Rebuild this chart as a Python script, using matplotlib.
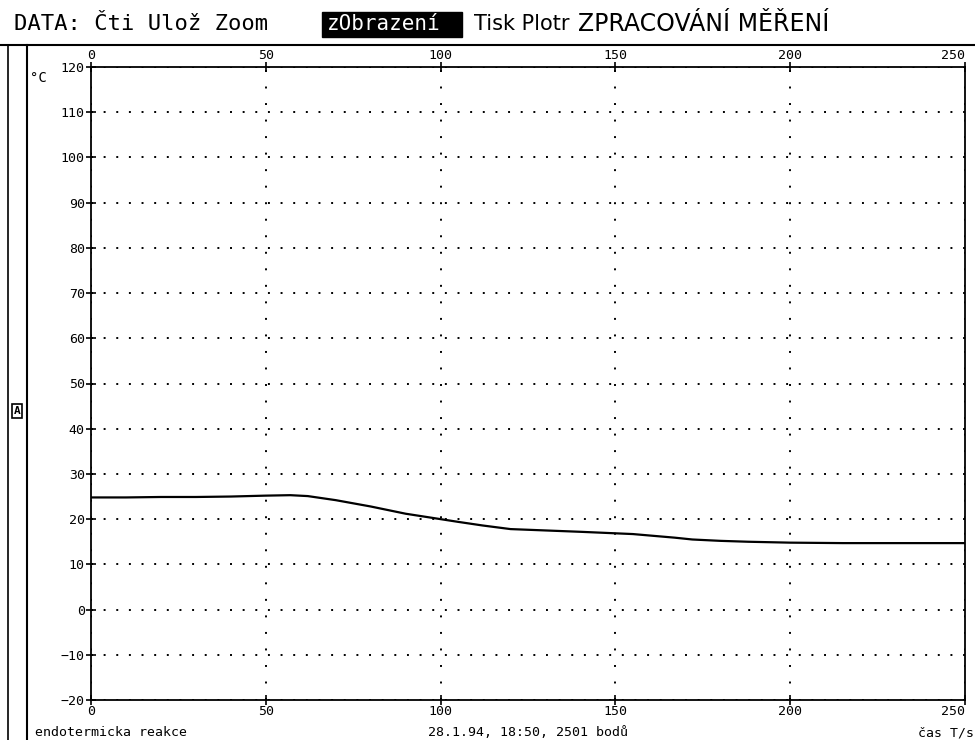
import numpy as np
import matplotlib.pyplot as plt
from matplotlib.lines import Line2D
from matplotlib.patches import Rectangle

# cas [s], teplota [C]
cas = [0, 10, 20, 30, 40, 50, 57, 62, 70, 80, 90, 100, 105, 112, 120, 130,
       140, 146, 155, 161, 167, 172, 180, 188, 200, 215, 230, 241, 250]
teplota = [24.8, 24.8, 24.9, 24.9, 25.0, 25.2, 25.3, 25.1, 24.2, 22.8, 21.2, 20.0,
           19.4, 18.6, 17.8, 17.5, 17.2, 17.0, 16.7, 16.3, 15.9, 15.5, 15.2, 15.0,
           14.8, 14.7, 14.7, 14.7, 14.7]

x_ticks = [0, 50, 100, 150, 200, 250]
y_ticks = [120, 110, 100, 90, 80, 70, 60, 50, 40, 30, 20, 10, 0, -10, -20]

mono = 'DejaVu Sans Mono'

fig = plt.figure(figsize=(9.75, 7.4), dpi=100)
ax = fig.add_axes([91/975, 1-700/740, (965-91)/975, (700-67)/740])

ax.plot(cas, teplota, color='black', lw=1.6)

ax.set_xlim(0, 250)
ax.set_ylim(-20, 120)
ax.set_xticks(x_ticks)
ax.set_yticks(y_ticks)
ax.tick_params(axis='x', top=True, labeltop=True, direction='inout', length=7,
               width=1.2, labelsize=9.5, pad=0)
ax.tick_params(axis='y', direction='inout', length=7, width=1.2, labelsize=9.5, pad=1)
for lab in ax.get_xticklabels() + ax.get_yticklabels():
    lab.set_family(mono)
# posledni popisek u okraje obrazovky
for t in (ax.xaxis.get_major_ticks()[-1].label1, ax.xaxis.get_major_ticks()[-1].label2):
    t.set_horizontalalignment('right')
    t.set_x(1.0)

ax.xaxis.grid(True, color='black', lw=1.4, linestyle=(0, (1, 7.5)))
ax.yaxis.grid(True, color='black', lw=1.4, linestyle=(0, (1, 5.5)))
for s in ax.spines.values():
    s.set_linewidth(1.3)

# ramecek obrazovky
fig.add_artist(Line2D([0, 1], [1-45/740, 1-45/740], color='black', lw=1.5))
fig.add_artist(Line2D([8/975, 8/975], [0, 1-45/740], color='black', lw=1.2))
fig.add_artist(Line2D([27/975, 27/975], [0, 1-45/740], color='black', lw=1.5))
fig.add_artist(Rectangle((12/975, 1-418/740), 10/975, 14/740, fill=False,
                         ec='black', lw=1.2, transform=fig.transFigure))
fig.text(17/975, 1-411/740, 'A', family=mono, fontsize=8, weight='bold',
         ha='center', va='center')

# menu
fig.text(14/975, 1-24/740, 'DATA: Čti Ulož Zoom', family=mono, fontsize=16,
         va='center', ha='left')
fig.add_artist(Rectangle((322/975, 1-37/740), 140/975, 25/740, color='black',
                         transform=fig.transFigure))
fig.text(327/975, 1-24/740, 'zObrazení', family=mono, fontsize=15, color='white',
         va='center', ha='left')
fig.text(474/975, 1-24/740, 'Tisk Plotr', family='DejaVu Sans', fontsize=15,
         va='center', ha='left')
fig.text(578/975, 1-24/740, 'ZPRACOVÁNÍ MĚŘENÍ', family='DejaVu Sans', fontsize=17,
         va='center', ha='left')

fig.text(30/975, 1-78/740, '°C', family=mono, fontsize=10, va='center', ha='left')

fig.text(35/975, 1-733/740, 'endotermicka reakce', family=mono, fontsize=9.5,
         va='center', ha='left')
fig.text(528/975, 1-733/740, '28.1.94, 18:50, 2501 bodů', family=mono, fontsize=9.5,
         va='center', ha='center')
fig.text(974/975, 1-733/740, 'čas T/s', family=mono, fontsize=9.5,
         va='center', ha='right')

fig.savefig('out.png', dpi=100)
